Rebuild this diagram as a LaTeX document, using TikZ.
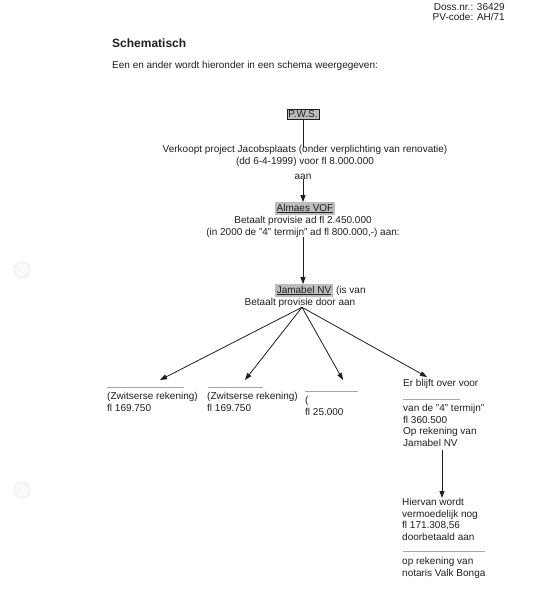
\documentclass[tikz,border=0pt]{standalone}
\usepackage{fontspec}
\setmainfont{Liberation Sans}
\usetikzlibrary{arrows.meta, positioning}
\definecolor{ink}{HTML}{1F1F1F}
\definecolor{hlgray}{HTML}{BDBDBD}

\begin{document}
\begin{tikzpicture}[x=1pt, y=-1pt,
    txt/.style={font=\fontsize{10}{11.6}\selectfont, text=ink, inner sep=0pt},
    blk/.style={txt, align=left, anchor=north west},
    hl/.style={txt, fill=hlgray, inner xsep=1.5pt, inner ysep=1.5pt},
    flow/.style={-{Triangle[length=7pt, width=5pt]}, ink, line width=0.8pt},
    link/.style={ink, line width=0.8pt},
    rule/.style={gray!70, line width=0.5pt},
]
    \fill[white] (0,0) rectangle (534,600);
    \useasboundingbox (0,0) rectangle (534,600);

    % punch holes of the scan
    \draw[gray!20, fill=gray!5, line width=0.6pt] (22,270) circle (8);
    \draw[gray!20, fill=gray!5, line width=0.6pt] (22,490) circle (8);

    % === header ===
    \node[txt, anchor=base east] (doss) at (505,10) {Doss.nr.: 36429};
    \node[txt, anchor=base east] (pv) at (505,20) {PV-code: AH/71};
    \node[txt, font=\fontsize{12}{14}\selectfont\bfseries, anchor=base west] (title) at (112,47) {Schematisch};
    \node[txt, anchor=base west] (intro) at (112,68) {Een en ander wordt hieronder in een schema weergegeven:};

    % === P.W.S. ===
    \node[hl, draw=ink, line width=0.6pt] (pws) at (303,114) {P.W.S.};
    \node[txt, align=center, anchor=north] (verkoopt) at (305,145)
        {Verkoopt project Jacobsplaats (onder verplichting van renovatie)\\(dd 6-4-1999) voor fl 8.000.000};
    \node[txt, anchor=base] (aan) at (303,179) {aan};
    \draw[link] (pws.south) -- ([yshift=-3pt]pws |- verkoopt.north);

    % === Almaes VOF ===
    \node[hl, anchor=base] (almaes) at (305,211) {\underline{Almaes VOF}};
    \node[txt, align=center, anchor=north] (betaalt) at (303,216)
        {Betaalt provisie ad fl 2.450.000\\(in 2000 de "4" termijn" ad fl 800.000,-) aan:};
    \draw[flow] (aan.south) -- (aan.south |- almaes.north);

    % === Jamabel NV ===
    \node[hl, anchor=base] (jamabel) at (304,293) {\underline{Jamabel NV}};
    \node[txt, anchor=base west] (isvan) at ([xshift=3pt]jamabel.base east) {(is van};
    \node[txt, anchor=base] (door) at (300,305) {Betaalt provisie door aan};
    \draw[flow] (betaalt.south -| aan) -- (aan |- jamabel.north);

    \coordinate (t1) at (160,380);
    \coordinate (t2) at (245,380);
    \coordinate (t3) at (343,380);
    \coordinate (t4) at (427,377);
    \foreach \t in {t1,t2,t3,t4}
        \draw[flow] ([xshift=2pt]door.south) -- (\t);

    % === receivers ===
    \draw[rule] (107,387) -- (184,387);
    \node[blk] (zw1) at (107,392) {(Zwitserse rekening)\\fl 169.750};
    \draw[rule] (208,387) -- (263,387);
    \node[blk] (zw2) at (207,392) {(Zwitserse rekening)\\fl 169.750};
    \draw[rule] (305,391) -- (358,391);
    \node[blk] (third) at (305,396) {(\\fl 25.000};

    \node[txt, anchor=base west] (blijft) at (403,386) {Er blijft over voor};
    \draw[rule] (403,399) -- (460,399);
    \node[blk] (rest) at (403,404) {van de "4" termijn"\\fl 360.500\\Op rekening van\\Jamabel NV};

    % === doorbetaling ===
    \node[blk] (hiervan) at (402,498) {Hiervan wordt\\vermoedelijk nog\\fl 171.308,56\\doorbetaald aan};
    \draw[flow] ([xshift=39pt, yshift=-3pt]rest.south west) -- ([xshift=40pt]hiervan.north west);
    \draw[rule] (403,551) -- (485,551);
    \node[blk] (notaris) at (402,557) {op rekening van\\notaris Valk Bonga};
\end{tikzpicture}
\end{document}
